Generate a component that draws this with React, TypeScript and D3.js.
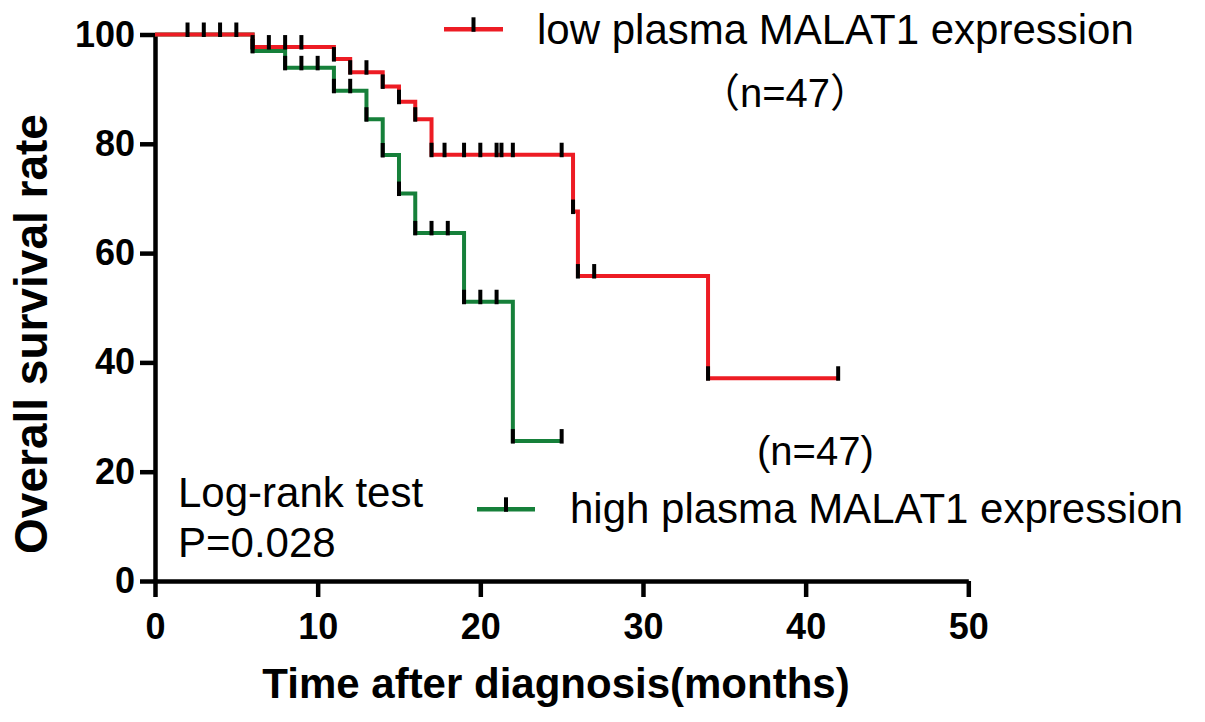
import React, { useEffect, useRef } from 'react';
import * as d3 from 'd3';

// Kaplan-Meier points: time (months) and survival (%) after that point
const lowTimes = [0, 2, 3, 4, 5, 6, 7, 8, 9, 11, 12, 13, 14, 15, 16, 17, 17.8, 19, 20, 21, 21.3, 22, 25, 25.7, 26, 27, 34, 42];
const lowSurvival = [100, 100, 100, 100, 100, 97.7, 97.7, 97.7, 97.7, 95.5, 93.1, 93.1, 90.5, 87.7, 84.5, 78.0, 78.0, 78.0, 78.0, 78.0, 78.0, 78.0, 78.0, 67.6, 55.8, 55.8, 37.1, 37.1];

const highTimes = [0, 6, 8, 9, 10, 11, 12, 13, 14, 15, 16, 17, 18, 19, 20, 21, 22, 25];
const highSurvival = [100, 97.0, 93.9, 93.9, 93.9, 89.7, 89.7, 84.5, 77.95, 70.9, 63.7, 63.7, 63.7, 51.1, 51.1, 51.1, 25.6, 25.6];

const xTicks = [0, 10, 20, 30, 40, 50];
const yTicks = [0, 20, 40, 60, 80, 100];

const lowLabel = 'low plasma MALAT1 expression';
const highLabel = 'high plasma MALAT1 expression';

const App: React.FC = () => {
  const svgRef = useRef<SVGSVGElement>(null);
  const width = 1205;
  const height = 722;

  useEffect(() => {
    if (!svgRef.current) return;
    const svg = d3.select(svgRef.current);
    svg.selectAll('*').remove();

    const colors = { red: '#ED1C24', green: '#16803A', ink: '#000000' };
    const font = '"Liberation Sans", Arial, "Noto Sans CJK SC", sans-serif';

    const x = d3.scaleLinear().domain([0, 50]).range([155, 968.3]);
    const y = d3.scaleLinear().domain([0, 100]).range([581, 34.5]);

    // axes
    const yAxis = svg.append('g').attr('transform', `translate(${x(0)},0)`)
      .call(d3.axisLeft(y).tickValues(yTicks).tickSize(15).tickPadding(5).tickSizeOuter(0));
    const xAxis = svg.append('g').attr('transform', `translate(0,${y(0)})`)
      .call(d3.axisBottom(x).tickValues(xTicks).tickSize(16).tickPadding(16).tickSizeOuter(0));
    [yAxis, xAxis].forEach(ax => {
      ax.select('.domain').attr('stroke', colors.ink).attr('stroke-width', 4.5);
      ax.selectAll('.tick line').attr('stroke', colors.ink).attr('stroke-width', 4.5);
      ax.selectAll('.tick text').attr('fill', colors.ink)
        .style('font-family', font).style('font-size', '36px').style('font-weight', 'bold');
    });

    svg.append('text').attr('x', 556).attr('y', 698).attr('text-anchor', 'middle')
      .attr('fill', colors.ink).style('font-family', font).style('font-size', '42px').style('font-weight', 'bold')
      .text('Time after diagnosis(months)');
    svg.append('text').attr('transform', 'translate(47,334) rotate(-90)').attr('text-anchor', 'middle')
      .attr('fill', colors.ink).style('font-family', font).style('font-size', '46px').style('font-weight', 'bold')
      .text('Overall survival rate');

    // survival curves
    const line = d3.line<[number, number]>().x(d => x(d[0])).y(d => y(d[1])).curve(d3.curveStepAfter);
    const series = [
      { times: highTimes, surv: highSurvival, color: colors.green },
      { times: lowTimes, surv: lowSurvival, color: colors.red },
    ];
    series.forEach(s => {
      const pts = s.times.map((t, i) => [t, s.surv[i]] as [number, number]);
      svg.append('path').datum(pts).attr('fill', 'none').attr('stroke', s.color)
        .attr('stroke-width', 4).attr('stroke-linejoin', 'miter').attr('d', line);
    });
    series.forEach(s => {
      const pts = s.times.map((t, i) => [t, s.surv[i]] as [number, number]).filter(d => d[0] > 0);
      svg.append('g').selectAll('line').data(pts).join('line')
        .attr('x1', d => x(d[0])).attr('x2', d => x(d[0]))
        .attr('y1', d => y(d[1]) - 12).attr('y2', d => y(d[1]) + 2.5)
        .attr('stroke', colors.ink).attr('stroke-width', 4);
    });

    // legend
    const legend = [
      { x1: 444, x2: 503, ly: 29.3, tx: 537, ty: 44, color: colors.red, label: lowLabel },
      { x1: 477, x2: 535, ly: 509.3, tx: 570, ty: 523, color: colors.green, label: highLabel },
    ];
    legend.forEach(l => {
      svg.append('line').attr('x1', l.x1).attr('x2', l.x2).attr('y1', l.ly).attr('y2', l.ly)
        .attr('stroke', l.color).attr('stroke-width', 4.5);
      const mid = (l.x1 + l.x2) / 2;
      svg.append('line').attr('x1', mid).attr('x2', mid).attr('y1', l.ly - 12).attr('y2', l.ly + 2.5)
        .attr('stroke', colors.ink).attr('stroke-width', 4);
      svg.append('text').attr('x', l.tx).attr('y', l.ty).attr('fill', colors.ink)
        .style('font-family', font).style('font-size', '42px').text(l.label);
    });
    svg.append('text').attr('x', 785).attr('y', 107).attr('text-anchor', 'middle').attr('fill', colors.ink)
      .style('font-family', font).style('font-size', '40px').text('（n=47）');
    svg.append('text').attr('x', 757).attr('y', 465).attr('fill', colors.ink)
      .style('font-family', font).style('font-size', '40px').text('(n=47)');

    // statistics
    svg.append('text').attr('x', 178).attr('y', 507).attr('fill', colors.ink)
      .style('font-family', font).style('font-size', '42px').text('Log-rank test');
    svg.append('text').attr('x', 178).attr('y', 557).attr('fill', colors.ink)
      .style('font-family', font).style('font-size', '42px').text('P=0.028');
  }, []);

  return (
    <div style={{ position: 'absolute', left: 0, top: 0, width, height, background: '#fff' }}>
      <svg ref={svgRef} width={width} height={height} viewBox={`0 0 ${width} ${height}`} style={{ display: 'block' }} />
    </div>
  );
};

export default App;
